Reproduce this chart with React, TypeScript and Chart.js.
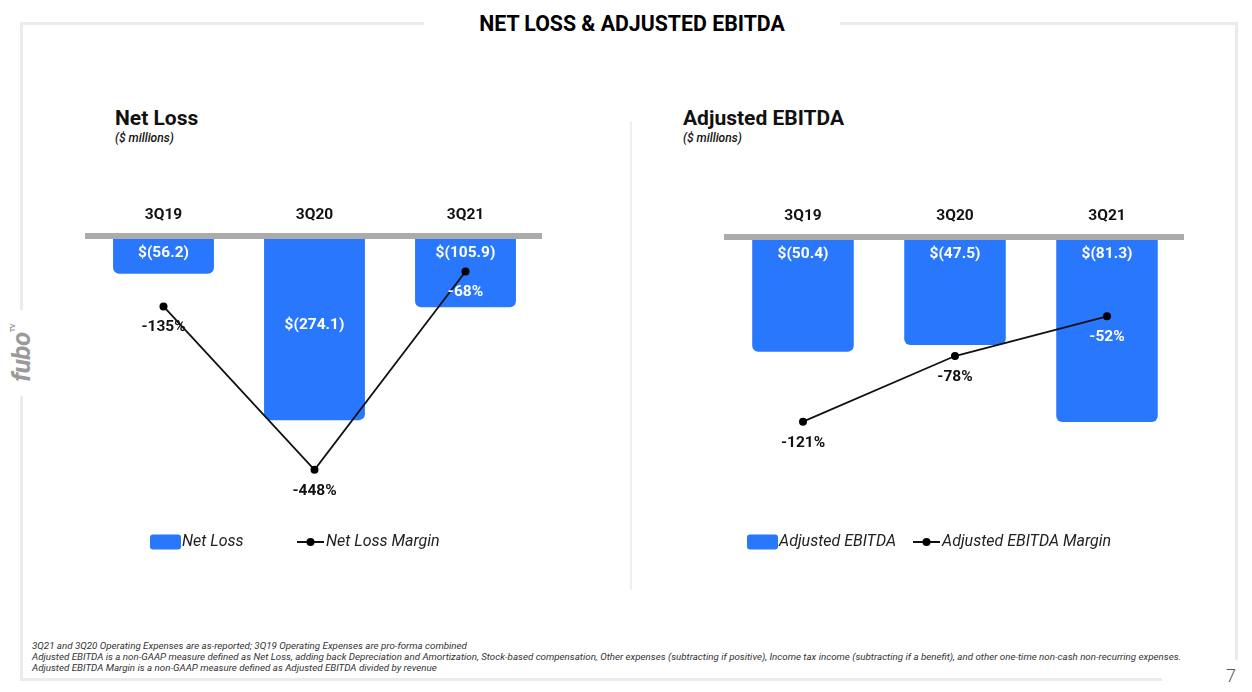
import React, { useEffect, useRef } from 'react';
import { Chart, registerables } from 'chart.js';

Chart.register(...registerables);

// ---------- data ----------
const quarters = ['3Q19', '3Q20', '3Q21'];
const netLoss = [-56.2, -274.1, -105.9];
const netLossMargin = [-135, -448, -68];
const adjEbitda = [-50.4, -47.5, -81.3];
const adjEbitdaMargin = [-121, -78, -52];

const footnotes = [
  '3Q21 and 3Q20 Operating Expenses are as-reported; 3Q19 Operating Expenses are pro-forma combined',
  'Adjusted EBITDA is a non-GAAP measure defined as Net Loss, adding back Depreciation and Amortization, Stock-based compensation, Other expenses (subtracting if positive), Income tax income (subtracting if a benefit), and other one-time non-cash non-recurring expenses.',
  'Adjusted EBITDA Margin is a non-GAAP measure defined as Adjusted EBITDA divided by revenue',
];

const BLUE = '#2877fd';
const FONT = 'Roboto, "Noto Sans", sans-serif';

const fmtMoney = (v: number) => `$(${Math.abs(v).toFixed(1)})`;
const fmtPct = (v: number) => `-${Math.abs(v)}%`;

const valueLabels = {
  id: 'valueLabels',
  afterDatasetsDraw(chart: any, _a: any, opts: any) {
    const ctx = chart.ctx;
    const barMeta = chart.getDatasetMeta(0);
    const lineMeta = chart.getDatasetMeta(1);
    const barDs = chart.data.datasets[0];
    const lineDs = chart.data.datasets[1];
    const anchors: string[] = opts.barAnchors || [];
    ctx.save();
    ctx.font = `700 15.5px ${FONT}`;
    ctx.textAlign = 'center';
    ctx.textBaseline = 'middle';
    barMeta.data.forEach((bar: any, i: number) => {
      const { x, y, base } = bar.getProps(['x', 'y', 'base'], true);
      const ly = anchors[i] === 'center' ? (y + base) / 2 - 3 : Math.min(y, base) + 17;
      ctx.fillStyle = '#ffffff';
      ctx.fillText(fmtMoney(barDs.data[i]), x, ly);
    });
    lineMeta.data.forEach((pt: any, i: number) => {
      const { x, y } = pt.getProps(['x', 'y'], true);
      const b = barMeta.data[i].getProps(['y', 'base'], true);
      const ly = y + 21;
      const inside = ly > Math.min(b.y, b.base) && ly < Math.max(b.y, b.base);
      ctx.fillStyle = inside ? '#ffffff' : '#111111';
      ctx.fillText(fmtPct(lineDs.data[i]), x, ly);
    });
    ctx.restore();
  },
};

const customLegend = {
  id: 'customLegend',
  afterDraw(chart: any, _a: any, opts: any) {
    const ctx = chart.ctx;
    const ds = chart.data.datasets;
    const y = opts.y;
    ctx.save();
    ctx.font = `italic 400 16px ${FONT}`;
    ctx.textBaseline = 'middle';
    ctx.textAlign = 'left';
    let x = opts.barX;
    ctx.fillStyle = ds[0].backgroundColor;
    ctx.beginPath();
    ctx.roundRect(x, y - 7.5, 31, 15, 3);
    ctx.fill();
    ctx.fillStyle = '#222222';
    ctx.fillText(ds[0].label, x + 32, y);
    x = opts.lineX;
    ctx.strokeStyle = ds[1].borderColor;
    ctx.lineWidth = 2;
    ctx.beginPath();
    ctx.moveTo(x, y);
    ctx.lineTo(x + 27, y);
    ctx.stroke();
    ctx.fillStyle = ds[1].pointBackgroundColor;
    ctx.beginPath();
    ctx.arc(x + 13.5, y, 4, 0, Math.PI * 2);
    ctx.fill();
    ctx.fillStyle = '#222222';
    ctx.fillText(ds[1].label, x + 29, y);
    ctx.restore();
  },
};

function makeConfig(p: {
  barLabel: string; barData: number[]; lineLabel: string; lineData: number[];
  yMin: number; y1Min: number; anchors: string[]; padding: any; legend: any;
}): any {
  return {
    data: {
      labels: quarters,
      datasets: [
        {
          type: 'bar', label: p.barLabel, data: p.barData, backgroundColor: BLUE,
          borderRadius: 6, borderSkipped: 'start', categoryPercentage: 1, barPercentage: 0.668,
          yAxisID: 'y', order: 2,
        },
        {
          type: 'line', label: p.lineLabel, data: p.lineData, borderColor: '#111111', borderWidth: 1.8,
          pointRadius: 4, pointBackgroundColor: '#000000', pointBorderWidth: 0, tension: 0,
          yAxisID: 'y1', order: 1,
        },
      ],
    },
    options: {
      animation: false,
      responsive: false,
      maintainAspectRatio: false,
      layout: { padding: p.padding },
      scales: {
        x: {
          position: 'top',
          offset: true,
          grid: { display: false, drawTicks: false },
          border: { display: true, color: '#ababab', width: 6, z: 1 },
          ticks: { color: '#111111', font: { family: FONT, size: 15.5, weight: '700' }, padding: 12 },
          afterFit: (s: any) => { s.height = 40; },
        },
        y: { display: false, min: p.yMin, max: 0 },
        y1: { display: false, min: p.y1Min, max: 0 },
      },
      plugins: {
        legend: { display: false },
        tooltip: { enabled: false },
        valueLabels: { barAnchors: p.anchors },
        customLegend: p.legend,
      },
    },
    plugins: [valueLabels, customLegend],
  };
}

function ChartCanvas({ config, style, width, height }: any) {
  const ref = useRef<HTMLCanvasElement>(null);
  useEffect(() => {
    if (!ref.current) return;
    const chart = new Chart(ref.current, config);
    return () => chart.destroy();
  }, []);
  return <canvas ref={ref} width={width} height={height} style={{ position: 'absolute', width, height, ...style }} />;
}

const line = (s: any) => <div style={{ position: 'absolute', background: '#ebebeb', ...s }} />;

export default function App() {
  const leftCfg = makeConfig({
    barLabel: 'Net Loss', barData: netLoss, lineLabel: 'Net Loss Margin', lineData: netLossMargin,
    yMin: -393, y1Min: -506, anchors: ['top', 'center', 'top'],
    padding: { left: 88, right: 89, top: 46, bottom: 100 },
    legend: { y: 392, barX: 150, lineX: 297 },
  });
  const rightCfg = makeConfig({
    barLabel: 'Adjusted EBITDA', barData: adjEbitda, lineLabel: 'Adjusted EBITDA Margin', lineData: adjEbitdaMargin,
    yMin: -116, y1Min: -173, anchors: ['top', 'top', 'top'],
    padding: { left: 97, right: 69, top: 47, bottom: 99 },
    legend: { y: 392, barX: 117, lineX: 283 },
  });

  return (
    <div style={{ position: 'fixed', left: 0, top: 0, width: 1252, height: 692, background: '#fff', overflow: 'hidden', fontFamily: FONT }}>
      {/* frame */}
      {line({ left: 20, top: 22, width: 1218, height: 3 })}
      {line({ left: 20, top: 22, width: 3, height: 659 })}
      {line({ left: 20, top: 678, width: 1142, height: 3 })}
      {line({ left: 1235, top: 22, width: 3, height: 638 })}
      {/* divider */}
      {line({ left: 630, top: 121, width: 2, height: 469, background: '#efefef' })}

      {/* main title */}
      <div style={{ position: 'absolute', left: 424, top: 8, width: 416, height: 30, background: '#fff', textAlign: 'center', lineHeight: '31px', fontSize: 21.3, fontWeight: 700, color: '#000', letterSpacing: 0 }}>
        NET LOSS &amp; ADJUSTED EBITDA
      </div>

      {/* logo */}
      <div style={{ position: 'absolute', left: 8, top: 310, width: 26, height: 86, background: '#fff' }}>
        <div style={{ position: 'absolute', left: -31, top: 30, width: 88, height: 26, transform: 'rotate(-90deg)', textAlign: 'center', color: '#9a9a9a', fontSize: 26, fontWeight: 700, fontStyle: 'italic', lineHeight: '26px', letterSpacing: -0.5 }}>
          fubo<sup style={{ fontSize: 7, fontStyle: 'normal', fontWeight: 700, verticalAlign: 'top', lineHeight: '10px' }}>TV</sup>
        </div>
      </div>

      {/* chart titles */}
      <div style={{ position: 'absolute', left: 115, top: 106, fontSize: 21, fontWeight: 700, color: '#111' }}>Net Loss</div>
      <div style={{ position: 'absolute', left: 115, top: 131, fontSize: 12, fontWeight: 500, fontStyle: 'italic', color: '#111' }}>($ millions)</div>
      <div style={{ position: 'absolute', left: 683, top: 106, fontSize: 21, fontWeight: 700, color: '#111' }}>Adjusted EBITDA</div>
      <div style={{ position: 'absolute', left: 683, top: 131, fontSize: 12, fontWeight: 500, fontStyle: 'italic', color: '#111' }}>($ millions)</div>

      <ChartCanvas config={leftCfg} width={630} height={450} style={{ left: 0, top: 150 }} />
      <ChartCanvas config={rightCfg} width={622} height={450} style={{ left: 630, top: 150 }} />

      {/* footnotes */}
      <div style={{ position: 'absolute', left: 32, top: 640, fontSize: 9.75, lineHeight: '11px', fontStyle: 'italic', color: '#333', whiteSpace: 'nowrap' }}>
        {footnotes.map((f, i) => <div key={i}>{f}</div>)}
      </div>

      {/* page number */}
      <div style={{ position: 'absolute', left: 1226, top: 666, fontSize: 18, fontWeight: 300, color: '#555', lineHeight: '20px' }}>7</div>
    </div>
  );
}
